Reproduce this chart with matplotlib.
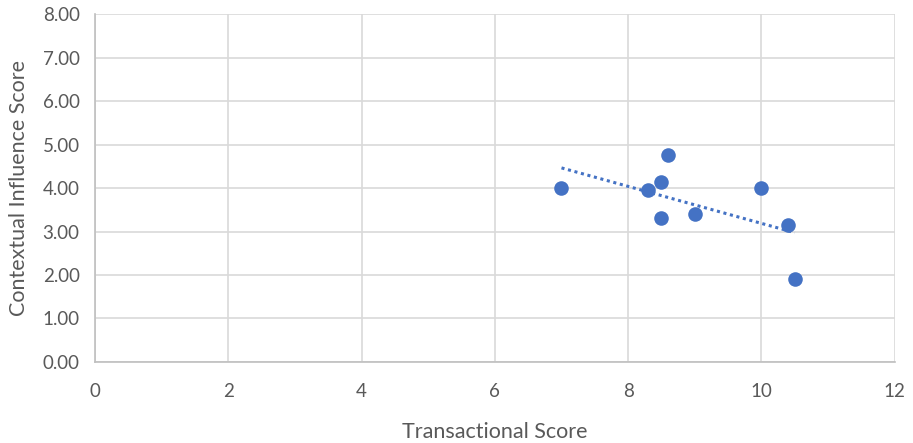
import matplotlib
import numpy as np

matplotlib.use("Agg")
import matplotlib.pyplot as plt

# Scores per respondent
transactional = [7.0, 8.3, 8.5, 8.6, 8.5, 9.0, 10.0, 10.4, 10.5]
contextual = [4.00, 3.95, 4.15, 4.75, 3.30, 3.40, 4.00, 3.15, 1.90]

x_ticks = [0, 2, 4, 6, 8, 10, 12]
y_ticks = [0, 1, 2, 3, 4, 5, 6, 7, 8]

blue = "#4472C4"
grid_color = "#D9D9D9"
text_color = "#595959"

plt.rcParams["font.family"] = ["Lato", "DejaVu Sans"]

fig = plt.figure(figsize=(9.13, 4.43), dpi=100)
ax = fig.add_axes([0.104, 0.183, 0.876, 0.785])

ax.scatter(transactional, contextual, s=110, color=blue, zorder=3,
           linewidths=0)

# Linear trendline over the data range
slope, intercept = np.polyfit(transactional, contextual, 1)
xs = np.array([min(transactional), max(transactional)])
ax.plot(xs, slope * xs + intercept, color=blue, lw=2.2,
        linestyle=(0, (1, 1.2)), zorder=2)

ax.set_xlim(0, 12)
ax.set_ylim(0, 8)
ax.set_xticks(x_ticks)
ax.set_yticks(y_ticks)
ax.set_xticklabels([str(t) for t in x_ticks])
ax.set_yticklabels(["%.2f" % t for t in y_ticks])
ax.grid(True, color=grid_color, lw=1.2, zorder=0)
ax.set_axisbelow(True)
for side in ["top", "right"]:
    ax.spines[side].set_visible(False)
for side in ["left", "bottom"]:
    ax.spines[side].set_color("#BFBFBF")
    ax.spines[side].set_linewidth(1.2)
ax.tick_params(axis="y", length=0, labelsize=13.5, colors=text_color, pad=11)
ax.tick_params(axis="x", length=0, labelsize=13.5, colors=text_color, pad=15)

ax.set_xlabel("Transactional Score", fontsize=15.5, color=text_color,
              labelpad=16)
ax.set_ylabel("Contextual Influence Score", fontsize=15.5,
              color=text_color, labelpad=10)

fig.savefig("out.png", dpi=100, facecolor="white")
